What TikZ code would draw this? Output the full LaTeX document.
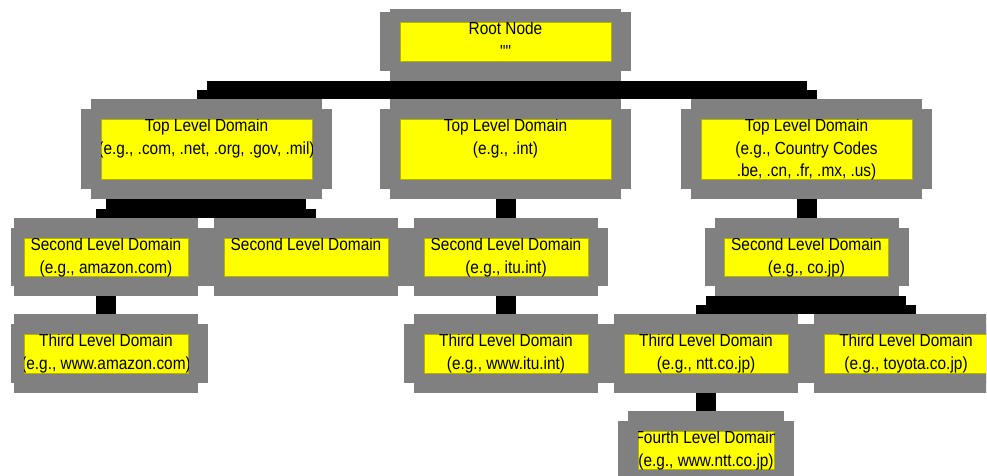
\documentclass[tikz,border=0pt]{standalone}
\usepackage{fontspec}
\newfontfamily\dnsfont{Liberation Sans}[FakeStretch=0.88]
\usetikzlibrary{calc}
\definecolor{boxgray}{HTML}{808080}
\definecolor{boxyellow}{HTML}{FFFF00}
\tikzset{
  grayfill/.style={fill=boxgray},
  yel/.style={rectangle, fill=boxyellow, draw=boxyellow!70!black, line width=0.5pt, inner sep=0pt, outer sep=0pt},
  lab/.style={inner sep=0pt, outer sep=0pt, align=center, text=black,
              font=\dnsfont\fontsize{17.5}{22.5}\selectfont},
  conn/.style={fill=black},
}
% #1 name, #2 centre x, #3 top, #4 bottom, #5 half width of yellow, #6 text
\newcommand\dnsbox[6]{%
  \fill[grayfill] (#2-#5-10,#3) rectangle (#2+#5+10,#4);
  \fill[grayfill] (#2-#5-20,#3+10) rectangle (#2+#5+20,#4-10);
  \node[yel, minimum width=2*#5, minimum height=#4-#3-40] (#1) at (#2,{(#3+#4)/2}) {};
  \begin{scope}
    \clip (#1.south west) rectangle (#1.north east);
    \node[lab, anchor=north] (#1-t) at (#1.north) {#6};
  \end{scope}
}
% vertical stub from parent to child
\newcommand\dnsstub[2]{%
  \fill[conn] ($(#1.south)+(-10,20)$) rectangle ($(#2.north)+(10,-20)$);
}
% bar from parent to two children
\newcommand\dnsbar[3]{%
  \coordinate (#1-b) at ($(#1.south)+(0,20)$);
  \coordinate (#2-tp) at ($(#2.north)+(0,-20)$);
  \coordinate (#3-tp) at ($(#3.north)+(0,-20)$);
  \fill[conn] (#2-tp |- #1-b) rectangle ($(#3-tp)+(0,-9)$);
  \fill[conn] ($(#2-tp)+(-10,-9)$) rectangle ($(#3-tp)+(10,0)$);
}
\begin{document}
\begin{tikzpicture}[x=1pt,y=-1pt]
\useasboundingbox (0,0) rectangle (987,475);
\begin{scope}
\clip (11,9) rectangle (986,475);
\dnsbox{root}{505.5}{2}{81}{105.5}{Root Node\\""}
\dnsbox{tlda}{206.5}{99}{199}{105.5}{Top Level Domain\\(e.g., .com, .net, .org, .gov, .mil)}
\dnsbox{tldb}{505.5}{99}{199}{105.5}{Top Level Domain\\(e.g., .int)}
\dnsbox{tldc}{806.5}{99}{199}{105.5}{Top Level Domain\\(e.g., Country Codes\\.be, .cn, .fr, .mx, .us)}
\dnsbox{slda}{106}{218}{296}{82}{Second Level Domain\\(e.g., amazon.com)}
\dnsbox{sldb}{306}{218}{296}{82}{Second Level Domain}
\dnsbox{sldc}{506}{218}{296}{82}{Second Level Domain\\(e.g., itu.int)}
\dnsbox{sldd}{806.5}{218}{296}{82}{Second Level Domain\\(e.g., co.jp)}
\dnsbox{thda}{106}{314}{393}{82}{Third Level Domain\\(e.g., www.amazon.com)}
\dnsbox{thdb}{506}{314}{393}{82}{Third Level Domain\\(e.g., www.itu.int)}
\dnsbox{thdc}{706}{314}{393}{82}{Third Level Domain\\(e.g., ntt.co.jp)}
\dnsbox{thdd}{906}{314}{393}{82}{Third Level Domain\\(e.g., toyota.co.jp)}
\dnsbox{fourth}{706}{411}{489}{68}{Fourth Level Domain\\(e.g., www.ntt.co.jp)}
\dnsbar{root}{tlda}{tldc}
\dnsbar{tlda}{slda}{sldb}
\dnsstub{tldb}{sldc}
\dnsstub{tldc}{sldd}
\dnsstub{slda}{thda}
\dnsstub{sldc}{thdb}
\dnsbar{sldd}{thdc}{thdd}
\dnsstub{thdc}{fourth}
\end{scope}
\end{tikzpicture}
\end{document}
